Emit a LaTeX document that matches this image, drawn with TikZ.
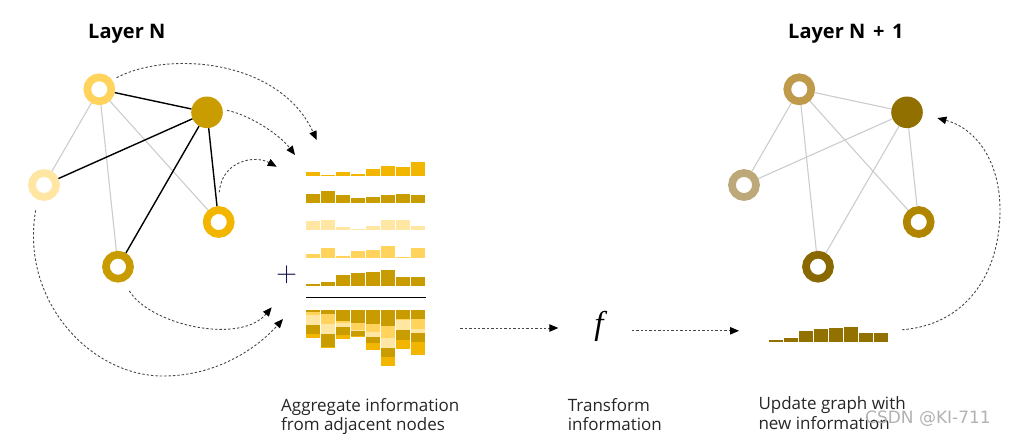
\documentclass[tikz,border=0pt]{standalone}
\usepackage{fontspec}
\setmainfont{Open Sans}
\newfontfamily\wmfont{DejaVu Sans}
\newfontfamily\fserif{Liberation Serif}
\usetikzlibrary{arrows.meta}
\definecolor{cOr}{HTML}{F2B600}
\definecolor{cDk}{HTML}{C99C00}
\definecolor{cPa}{HTML}{FFE6A3}
\definecolor{cLt}{HTML}{FFD35C}
\definecolor{cE}{HTML}{C89B00}
\definecolor{rA}{HTML}{BF9A4B}
\definecolor{rB}{HTML}{927000}
\definecolor{rC}{HTML}{BCA878}
\definecolor{rD}{HTML}{B08500}
\definecolor{rE}{HTML}{8A6800}
\definecolor{hist}{HTML}{937100}
\definecolor{navy}{HTML}{14144A}
\definecolor{edgegray}{HTML}{CCCCCC}
\tikzset{
  ring/.style={circle, minimum size=24pt, inner sep=0pt, line width=7.7pt},
  hub/.style={circle, minimum size=31.6pt, inner sep=0pt},
  strong/.style={line width=1.4pt, black},
  weak/.style={line width=1.1pt, edgegray},
  flow/.style={dash pattern=on 2.4pt off 2pt, line width=0.9pt, black!72,
    -{Triangle[length=9pt,width=7.5pt,color=black]}},
  title/.style={font=\bfseries\fontsize{20}{24}\selectfont, anchor=base west, inner sep=0pt},
  lbl/.style={font=\fontsize{17}{19.5}\selectfont, align=left, anchor=north west, inner sep=0pt, text=black!85},
  box/.style={inner sep=0pt, draw=none}
}
\begin{document}
\begin{tikzpicture}[x=1pt,y=-1pt]
\useasboundingbox (0,0) rectangle (1011,434);
% titles
\node[title] (tl) at (88,38.3) {Layer N};
\node[title] (tr) at (788,38.3) {Layer N\hspace{2.5pt} +\hspace{2.5pt} 1};
% left graph
\node[ring, draw=cLt] (la) at (99.3,89.3) {};
\node[hub, fill=cDk] (lb) at (207,112.3) {};
\node[ring, draw=cPa] (lc) at (44,185) {};
\node[ring, draw=cOr] (ld) at (218.7,222) {};
\node[ring, draw=cE] (le) at (118,266.7) {};
\draw[weak] (la) -- (lc);
\draw[weak] (la) -- (le);
\draw[weak] (la) -- (ld);
\draw[strong] (la) -- (lb);
\draw[strong] (lc) -- (lb);
\draw[strong] (le) -- (lb);
\draw[strong] (ld) -- (lb);
% right graph
\node[ring, draw=rA] (ra) at (799.3,89.3) {};
\node[hub, fill=rB] (rb) at (907,112.3) {};
\node[ring, draw=rC] (rc) at (744,185) {};
\node[ring, draw=rD] (rd) at (918.7,222) {};
\node[ring, draw=rE] (re) at (818,266.7) {};
\draw[weak] (ra) -- (rc);
\draw[weak] (ra) -- (re);
\draw[weak] (ra) -- (rd);
\draw[weak] (ra) -- (rb);
\draw[weak] (rc) -- (rb);
\draw[weak] (re) -- (rb);
\draw[weak] (rd) -- (rb);
% bar rows
\foreach \h [count=\i from 0] in {3.3,1,3.3,1.3,7,9.7,8.7,13.3}
  \fill[cOr] ({306+15*\i},175.7) rectangle ++(14,-\h);
\foreach \h [count=\i from 0] in {9.7,12.7,8.7,5,6.3,8.7,9.7,8.7}
  \fill[cDk] ({306+15*\i},203.3) rectangle ++(14,-\h);
\foreach \h [count=\i from 0] in {9.3,10.3,3.3,1.3,4.3,10.3,10.3,4.3}
  \fill[cPa] ({306+15*\i},230.3) rectangle ++(14,-\h);
\foreach \h [count=\i from 0] in {3.7,9.7,2,7,8,12,1,9.7}
  \fill[cLt] ({306+15*\i},258) rectangle ++(14,-\h);
\foreach \h [count=\i from 0] in {1.3,3.7,11,12.3,14,15.3,8.7,8.7}
  \fill[cE] ({306+15*\i},285.7) rectangle ++(14,-\h);
\node[inner sep=0pt] (plus) at (286.7,275) {\fontsize{10}{10}\selectfont\color{navy}\scalebox{2.7}{$+$}};
\draw[line width=1.3pt] (306,297.3) -- (426,297.3);
% stacked
\foreach \a/\b/\c/\d/\e [count=\i from 0] in {1.3/3.7/9.3/9.7/3.3, 3.7/9.7/10.3/12.7/1, 11/2/3.3/8.7/3.3, 12.3/7/1.3/5/1.3, 14/8/4.3/6.3/7, 15.3/12/10.3/8.7/9.7, 8.7/1/10.3/9.7/8.7, 8.7/9.7/4.3/8.7/13.3}{
  \fill[cE]  ({306+15*\i},310.3) rectangle ++(14,\a);
  \fill[cLt] ({306+15*\i},{310.3+\a}) rectangle ++(14,\b);
  \fill[cPa] ({306+15*\i},{310.3+\a+\b}) rectangle ++(14,\c);
  \fill[cDk] ({306+15*\i},{310.3+\a+\b+\c}) rectangle ++(14,\d);
  \fill[cOr] ({306+15*\i},{310.3+\a+\b+\c+\d}) rectangle ++(14,\e);
}
\node[box, minimum width=120pt, minimum height=35pt, anchor=north west] (stack) at (306,310.3) {};
% f
\node[inner sep=0pt, font=\fserif\itshape\fontsize{33}{33}\selectfont] (f) at (599,326) {f};
% histogram
\foreach \h [count=\i from 0] in {1.7,4,11,12.3,13.7,15,9,9}
  \fill[hist] ({769+15*\i},341.7) rectangle ++(14,-\h);
\node[box, minimum width=119pt, minimum height=21.4pt, anchor=south west] (hs) at (769,341.7) {};
% arrow targets
\coordinate (t1) at (316.7,140);
\coordinate (t2) at (295,155);
\coordinate (t3) at (276.7,166.7);
\coordinate (t4) at (271.7,307.3);
\coordinate (t5) at (283,319);
% arrows
\draw[flow, shorten <=5pt] (la.36) .. controls (170,50) and (280,60) .. (t1);
\draw[flow, shorten <=4.5pt] (lb.10) .. controls (250,115) and (280,135) .. (t2);
\draw[flow, shorten <=14pt] (ld.92) .. controls (222,160) and (255,155) .. (t3);
\draw[flow, shorten <=11pt] (le.-69) .. controls (150,325) and (240,345) .. (t4);
\draw[flow, shorten <=11pt] (lc.-114) .. controls (20,300) and (90,376) .. (163,376) .. controls (220,376) and (260,345) .. (t5);
\draw[flow, shorten <=34pt, shorten >=40.7pt] (stack.east) -- (stack.east -| f.center);
\draw[flow, shorten <=32.7pt, shorten >=30pt] (f.center |- hs.west) -- (hs.west);
\draw[flow, shorten <=13.7pt, shorten >=15pt] (hs.east) .. controls (965,325) and (1000,275) .. (1000,210) .. controls (1000,160) and (975,128) .. (rb.-7);
% labels
\node[lbl] (lagg) at (281,397.8) {Aggregate information\\from adjacent nodes};
\node[lbl] (ltr) at (567.7,397.8) {Transform\\information};
\node[lbl] (lup) at (758.3,396.4) {Update graph with\\new information};
\node[inner sep=0pt, anchor=base west, font=\wmfont\fontsize{17}{20}\selectfont, text=black!30] (wm) at (865,423.3) {CSDN @KI-711};
\end{tikzpicture}
\end{document}
